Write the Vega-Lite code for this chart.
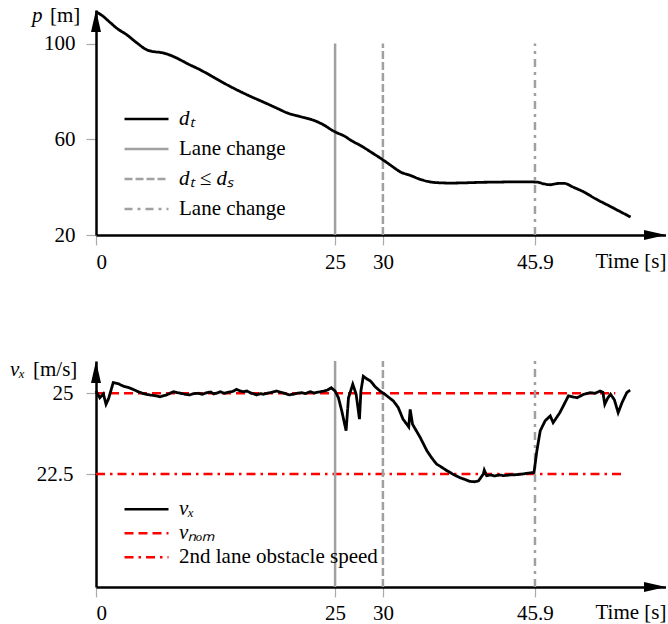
{
  "$schema": "https://vega.github.io/schema/vega-lite/v6.json",
  "padding": {"left": 10, "top": 5, "right": 0, "bottom": 0},
  "bounds": "flush",
  "spacing": 126,
  "datasets": {
    "events": [
      {"t": 25, "kind": "lc1"},
      {"t": 30, "kind": "dtds"},
      {"t": 45.9, "kind": "lc2"}
    ],
    "refs": [
      {"kind": "vnom", "v": 25, "t0": 0, "t1": 54.3},
      {"kind": "obs", "v": 22.5, "t0": 0, "t1": 55}
    ],
    "dt": [
      {"t": 0, "p": 113.3}, {"t": 0.7, "p": 111.5}, {"t": 1.5, "p": 108.7}, {"t": 2.3, "p": 106},
      {"t": 3.2, "p": 103.7}, {"t": 4.2, "p": 100.5}, {"t": 5.3, "p": 97.4}, {"t": 6.0, "p": 96.6},
      {"t": 6.7, "p": 96.3}, {"t": 7.5, "p": 95.5}, {"t": 8.4, "p": 94}, {"t": 9.6, "p": 91.5},
      {"t": 10.9, "p": 89}, {"t": 12.6, "p": 85.2}, {"t": 14.3, "p": 81.5}, {"t": 16.0, "p": 78.2},
      {"t": 17.8, "p": 75}, {"t": 19.0, "p": 72.8}, {"t": 20.0, "p": 71}, {"t": 21.3, "p": 69.5},
      {"t": 22.7, "p": 68}, {"t": 23.8, "p": 66}, {"t": 24.8, "p": 63.5}, {"t": 25.2, "p": 62.7},
      {"t": 25.9, "p": 61.5}, {"t": 26.6, "p": 59.7}, {"t": 27.9, "p": 56.8}, {"t": 29.0, "p": 54},
      {"t": 30.0, "p": 51.4}, {"t": 31.0, "p": 48.6}, {"t": 31.8, "p": 46.4}, {"t": 32.8, "p": 45},
      {"t": 33.8, "p": 43.4}, {"t": 34.9, "p": 42.2}, {"t": 36.0, "p": 41.8}, {"t": 37.0, "p": 41.7},
      {"t": 38.6, "p": 41.8}, {"t": 40.2, "p": 42}, {"t": 42.0, "p": 42.1}, {"t": 43.6, "p": 42.2},
      {"t": 45.0, "p": 42.2}, {"t": 46.1, "p": 42.1}, {"t": 46.8, "p": 41.4}, {"t": 47.5, "p": 41},
      {"t": 48.2, "p": 41.5}, {"t": 48.9, "p": 41.6}, {"t": 50.0, "p": 39.8}, {"t": 51.0, "p": 38},
      {"t": 52.2, "p": 35.2}, {"t": 53.5, "p": 32.5}, {"t": 54.7, "p": 30}, {"t": 55.9, "p": 27.5}
    ],
    "vx": [
      {"t": 0.0, "v": 25.07}, {"t": 0.4, "v": 24.86}, {"t": 0.77, "v": 24.98}, {"t": 1.05, "v": 24.66},
      {"t": 1.3, "v": 24.82}, {"t": 1.8, "v": 25.33}, {"t": 2.3, "v": 25.3}, {"t": 2.86, "v": 25.22},
      {"t": 3.4, "v": 25.18}, {"t": 3.9, "v": 25.12}, {"t": 4.4, "v": 25.05}, {"t": 4.95, "v": 24.99},
      {"t": 5.4, "v": 24.96}, {"t": 5.8, "v": 24.94}, {"t": 6.3, "v": 24.92}, {"t": 6.7, "v": 24.89},
      {"t": 7.1, "v": 24.93}, {"t": 7.4, "v": 24.95}, {"t": 7.8, "v": 25.01}, {"t": 8.1, "v": 25.05},
      {"t": 8.5, "v": 25.02}, {"t": 8.9, "v": 25.0}, {"t": 9.3, "v": 24.97}, {"t": 9.8, "v": 24.95},
      {"t": 10.2, "v": 24.99}, {"t": 10.7, "v": 25.0}, {"t": 11.1, "v": 24.97}, {"t": 11.6, "v": 25.02},
      {"t": 12.0, "v": 25.04}, {"t": 12.3, "v": 24.98}, {"t": 12.7, "v": 25.01}, {"t": 13.0, "v": 25.05},
      {"t": 13.4, "v": 25.0}, {"t": 13.8, "v": 25.03}, {"t": 14.3, "v": 25.06}, {"t": 14.7, "v": 25.12},
      {"t": 15.0, "v": 25.08}, {"t": 15.4, "v": 25.05}, {"t": 15.8, "v": 25.07}, {"t": 16.1, "v": 25.02},
      {"t": 16.5, "v": 24.98}, {"t": 16.8, "v": 24.95}, {"t": 17.2, "v": 24.99}, {"t": 17.5, "v": 24.97},
      {"t": 17.9, "v": 25.0}, {"t": 18.2, "v": 25.02}, {"t": 18.6, "v": 25.05}, {"t": 18.9, "v": 25.07},
      {"t": 19.3, "v": 25.03}, {"t": 19.7, "v": 25.0}, {"t": 20.2, "v": 24.95}, {"t": 20.6, "v": 24.97},
      {"t": 21.0, "v": 25.0}, {"t": 21.5, "v": 25.02}, {"t": 21.9, "v": 24.99}, {"t": 22.4, "v": 25.05},
      {"t": 22.8, "v": 25.01}, {"t": 23.1, "v": 25.03}, {"t": 23.5, "v": 25.05}, {"t": 23.8, "v": 25.07},
      {"t": 24.2, "v": 25.1}, {"t": 24.6, "v": 25.17}, {"t": 25.0, "v": 25.07}, {"t": 25.35, "v": 24.86},
      {"t": 25.7, "v": 24.45}, {"t": 26.15, "v": 23.84}, {"t": 26.4, "v": 24.86}, {"t": 26.85, "v": 25.28},
      {"t": 27.2, "v": 24.97}, {"t": 27.55, "v": 24.2}, {"t": 27.7, "v": 25.07}, {"t": 27.95, "v": 25.53},
      {"t": 28.3, "v": 25.45}, {"t": 28.7, "v": 25.38}, {"t": 29.2, "v": 25.2}, {"t": 29.7, "v": 25.07},
      {"t": 30.2, "v": 24.97}, {"t": 31.1, "v": 24.76}, {"t": 31.6, "v": 24.56}, {"t": 32.1, "v": 24.2},
      {"t": 32.7, "v": 23.96}, {"t": 32.85, "v": 24.5}, {"t": 33.1, "v": 24.04}, {"t": 33.9, "v": 23.63},
      {"t": 34.6, "v": 23.22}, {"t": 35.1, "v": 23.0}, {"t": 35.6, "v": 22.81}, {"t": 36.2, "v": 22.7},
      {"t": 36.7, "v": 22.6}, {"t": 37.4, "v": 22.48}, {"t": 38.1, "v": 22.38}, {"t": 38.6, "v": 22.33},
      {"t": 39.1, "v": 22.27}, {"t": 39.6, "v": 22.26}, {"t": 40.0, "v": 22.29}, {"t": 40.5, "v": 22.5},
      {"t": 40.6, "v": 22.62}, {"t": 40.85, "v": 22.45}, {"t": 41.3, "v": 22.47}, {"t": 41.7, "v": 22.44},
      {"t": 42.2, "v": 22.47}, {"t": 42.6, "v": 22.45}, {"t": 43.3, "v": 22.47}, {"t": 44.0, "v": 22.48},
      {"t": 44.6, "v": 22.5}, {"t": 45.05, "v": 22.52}, {"t": 45.8, "v": 22.55}, {"t": 46.1, "v": 23.22},
      {"t": 46.45, "v": 23.84}, {"t": 46.97, "v": 24.15}, {"t": 47.5, "v": 24.3}, {"t": 47.8, "v": 24.09},
      {"t": 48.5, "v": 24.4}, {"t": 49.4, "v": 24.92}, {"t": 50.3, "v": 24.86}, {"t": 51.0, "v": 24.97},
      {"t": 51.7, "v": 25.02}, {"t": 52.2, "v": 25.0}, {"t": 52.7, "v": 25.07}, {"t": 53.0, "v": 25.03},
      {"t": 53.2, "v": 24.66}, {"t": 53.5, "v": 24.85}, {"t": 53.8, "v": 24.97}, {"t": 54.2, "v": 24.8},
      {"t": 54.6, "v": 24.4}, {"t": 55.0, "v": 24.71}, {"t": 55.5, "v": 25.02}, {"t": 55.85, "v": 25.1}
    ]
  },
  "config": {
    "view": {"stroke": null},
    "font": "Liberation Serif",
    "axis": {
      "grid": false, "domainColor": "black", "domainWidth": 2.5,
      "tickColor": "#aaaaaa", "tickWidth": 1.2, "tickSize": 10,
      "labelFont": "Liberation Serif", "labelFontSize": 21, "labelColor": "black",
      "titleFont": "Liberation Serif", "titleFontSize": 21, "titleFontWeight": "normal", "titleColor": "black"
    },
    "legend": {
      "labelFont": "Liberation Serif", "labelFontSize": 21, "labelColor": "black", "labelLimit": 500
    }
  },
  "resolve": {"scale": {"color": "independent", "strokeDash": "independent"}},
  "vconcat": [
    {
      "width": 570, "height": 225,
      "layer": [
        {
          "data": {"name": "events"},
          "mark": {"type": "rule", "strokeWidth": 2.5},
          "encoding": {
            "x": {"field": "t", "type": "quantitative",
              "scale": {"domain": [0, 59.6], "nice": false, "zero": false},
              "axis": {"values": [0, 25, 30, 45.9], "labelExpr": "'' + datum.value", "labelBaseline": "alphabetic", "labelPadding": 23,
                "title": "Time [s]", "titleX": 570, "titleY": 32, "titleAlign": "right", "titleBaseline": "alphabetic", "titleAnchor": "end"}},
            "y": {"datum": 20, "type": "quantitative",
              "scale": {"domain": [20, 114], "nice": false, "zero": false},
              "axis": {"values": [20, 60, 100], "labelExpr": "'' + datum.value", "labelPadding": 11, "title": null}},
            "y2": {"datum": 100},
            "color": {"field": "kind", "type": "nominal",
              "scale": {"domain": ["dt", "lc1", "dtds", "lc2"], "range": ["black", "#a0a0a0", "#a0a0a0", "#a0a0a0"]},
              "legend": {"orient": "none", "legendX": 39, "legendY": 97.5, "title": null, "padding": 0,
                "symbolType": "M-2.2,0H2.2", "symbolSize": 400, "symbolStrokeWidth": 2.5, "labelOffset": 21, "rowPadding": 8,
                "labelExpr": "datum.value == 'dt' ? 'dₜ' : datum.value == 'dtds' ? 'dₜ ≤ dₛ' : 'Lane change'",
                "labelFontStyle": {"expr": "datum.value == 'dt' || datum.value == 'dtds' ? 'italic' : 'normal'"}}},
            "strokeDash": {"field": "kind", "type": "nominal",
              "scale": {"domain": ["dt", "lc1", "dtds", "lc2"], "range": [[1, 0], [1, 0], [8, 3], [8, 5, 3, 5]]}}
          }
        },
        {
          "data": {"name": "dt"},
          "mark": {"type": "line", "strokeWidth": 2.8, "interpolate": "monotone"},
          "encoding": {
            "x": {"field": "t", "type": "quantitative"},
            "y": {"field": "p", "type": "quantitative"},
            "color": {"datum": "dt"},
            "strokeDash": {"datum": "dt"}
          }
        },
        {
          "data": {"values": [{}]},
          "mark": {"type": "point", "shape": "M0,0L-2.2,-0.5L-2.2,0.5Z", "size": 400, "filled": true, "color": "black", "opacity": 1},
          "encoding": {"x": {"datum": 59.6, "type": "quantitative"}, "y": {"datum": 20, "type": "quantitative"}}
        },
        {
          "data": {"values": [{}]},
          "mark": {"type": "point", "shape": "M0,0L-0.5,2.2L0.5,2.2Z", "size": 400, "filled": true, "color": "black", "opacity": 1},
          "encoding": {"x": {"datum": 0, "type": "quantitative"}, "y": {"datum": 114, "type": "quantitative"}}
        },
        {
          "data": {"values": [{}]},
          "mark": {"type": "text", "text": "p", "fontStyle": "italic", "align": "left", "baseline": "alphabetic", "dx": -64, "dy": 12, "fontSize": 21, "font": "Liberation Serif", "color": "black"},
          "encoding": {"x": {"datum": 0, "type": "quantitative"}, "y": {"datum": 114, "type": "quantitative"}}
        },
        {
          "data": {"values": [{}]},
          "mark": {"type": "text", "text": "[m]", "align": "left", "baseline": "alphabetic", "dx": -46, "dy": 12, "fontSize": 21, "font": "Liberation Serif", "color": "black"},
          "encoding": {"x": {"datum": 0, "type": "quantitative"}, "y": {"datum": 114, "type": "quantitative"}}
        }
      ]
    },
    {
      "width": 570, "height": 226,
      "layer": [
        {
          "data": {"name": "refs"},
          "mark": {"type": "rule", "strokeWidth": 2.5},
          "encoding": {
            "x": {"field": "t0", "type": "quantitative",
              "scale": {"domain": [0, 59.6], "nice": false, "zero": false},
              "axis": {"values": [0, 25, 30, 45.9], "labelExpr": "'' + datum.value", "labelBaseline": "alphabetic", "labelPadding": 22,
                "title": "Time [s]", "titleX": 570, "titleY": 31, "titleAlign": "right", "titleBaseline": "alphabetic", "titleAnchor": "end"}},
            "x2": {"field": "t1"},
            "y": {"field": "v", "type": "quantitative",
              "scale": {"domain": [19, 26], "nice": false, "zero": false},
              "axis": {"values": [22.5, 25], "labelExpr": "'' + datum.value", "labelPadding": 13, "title": null}},
            "color": {"field": "kind", "type": "nominal",
              "scale": {"domain": ["vx", "vnom", "obs"], "range": ["black", "#ff0000", "#ff0000"]},
              "legend": {"orient": "none", "legendX": 39, "legendY": 136.8, "title": null, "padding": 0,
                "symbolType": "M-2.2,0H2.2", "symbolSize": 400, "symbolStrokeWidth": 2.5, "labelOffset": 21, "rowPadding": 2,
                "labelExpr": "datum.value == 'vx' ? 'vₓ' : datum.value == 'vnom' ? 'vₙₒₘ' : '2nd lane obstacle speed'",
                "labelFontStyle": {"expr": "datum.value == 'vx' || datum.value == 'vnom' ? 'italic' : 'normal'"}}},
            "strokeDash": {"field": "kind", "type": "nominal",
              "scale": {"domain": ["vx", "vnom", "obs"], "range": [[1, 0], [9, 5], [9, 5, 2.5, 5]]}}
          }
        },
        {
          "data": {"name": "events"},
          "transform": [{"filter": "datum.kind == 'lc1'"}],
          "mark": {"type": "rule", "strokeWidth": 2.5, "color": "#a0a0a0"},
          "encoding": {"x": {"field": "t", "type": "quantitative"}, "y": {"datum": 19, "type": "quantitative"}, "y2": {"datum": 26}}
        },
        {
          "data": {"name": "events"},
          "transform": [{"filter": "datum.kind == 'dtds'"}],
          "mark": {"type": "rule", "strokeWidth": 2.5, "color": "#a0a0a0", "strokeDash": [8, 3]},
          "encoding": {"x": {"field": "t", "type": "quantitative"}, "y": {"datum": 19, "type": "quantitative"}, "y2": {"datum": 26}}
        },
        {
          "data": {"name": "events"},
          "transform": [{"filter": "datum.kind == 'lc2'"}],
          "mark": {"type": "rule", "strokeWidth": 2.5, "color": "#a0a0a0", "strokeDash": [8, 5, 3, 5]},
          "encoding": {"x": {"field": "t", "type": "quantitative"}, "y": {"datum": 19, "type": "quantitative"}, "y2": {"datum": 26}}
        },
        {
          "data": {"name": "vx"},
          "mark": {"type": "line", "strokeWidth": 2.8},
          "encoding": {
            "x": {"field": "t", "type": "quantitative"},
            "y": {"field": "v", "type": "quantitative"},
            "color": {"datum": "vx"},
            "strokeDash": {"datum": "vx"}
          }
        },
        {
          "data": {"values": [{}]},
          "mark": {"type": "point", "shape": "M0,0L-2.2,-0.5L-2.2,0.5Z", "size": 400, "filled": true, "color": "black", "opacity": 1},
          "encoding": {"x": {"datum": 59.6, "type": "quantitative"}, "y": {"datum": 19, "type": "quantitative"}}
        },
        {
          "data": {"values": [{}]},
          "mark": {"type": "point", "shape": "M0,0L-0.5,2.2L0.5,2.2Z", "size": 400, "filled": true, "color": "black", "opacity": 1},
          "encoding": {"x": {"datum": 0, "type": "quantitative"}, "y": {"datum": 26, "type": "quantitative"}}
        },
        {
          "data": {"values": [{}]},
          "mark": {"type": "text", "text": "vₓ", "fontStyle": "italic", "align": "left", "baseline": "alphabetic", "dx": -86, "dy": 15, "fontSize": 21, "font": "Liberation Serif", "color": "black"},
          "encoding": {"x": {"datum": 0, "type": "quantitative"}, "y": {"datum": 26, "type": "quantitative"}}
        },
        {
          "data": {"values": [{}]},
          "mark": {"type": "text", "text": "[m/s]", "align": "left", "baseline": "alphabetic", "dx": -63, "dy": 15, "fontSize": 21, "font": "Liberation Serif", "color": "black"},
          "encoding": {"x": {"datum": 0, "type": "quantitative"}, "y": {"datum": 26, "type": "quantitative"}}
        }
      ]
    }
  ]
}
